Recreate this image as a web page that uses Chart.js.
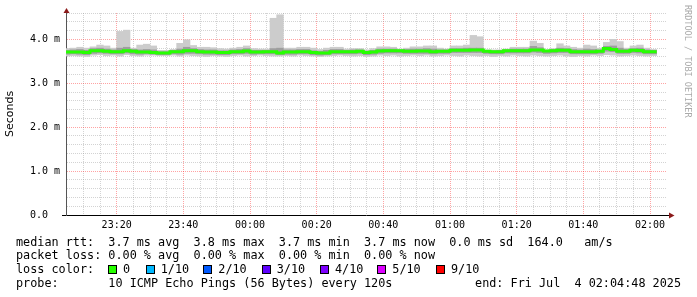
<!DOCTYPE html>
<html><head><meta charset="utf-8">
<script src="https://cdn.jsdelivr.net/npm/chart.js@4/dist/chart.umd.min.js"></script>
<style>
html,body{margin:0;padding:0;background:#fff;}
#wrap{position:relative;width:697px;height:297px;overflow:hidden;background:#fff;}
canvas{position:absolute;left:0;top:0;}
.t{position:absolute;font-family:"DejaVu Sans Mono",monospace;font-size:11.8px;line-height:14px;white-space:pre;color:#000;}
.sq{position:absolute;width:7px;height:7px;border:1px solid #000;}
#rrd{position:absolute;left:683px;top:5px;writing-mode:vertical-rl;font-family:"DejaVu Sans Mono",monospace;font-size:8.5px;color:#aaaaaa;white-space:pre;line-height:10px;}
</style></head><body>
<div id="wrap">
<canvas id="c" width="697" height="297"></canvas>
<div id="rrd">RRDTOOL / TOBI OETIKER</div>
<div class="t" style="left:16px;top:234.5px;">median rtt:  3.7 ms avg  3.8 ms max  3.7 ms min  3.7 ms now  0.0 ms sd  164.0   am/s</div>
<div class="t" style="left:16px;top:248.2px;">packet loss: 0.00 % avg  0.00 % max  0.00 % min  0.00 % now</div>
<div class="t" style="left:16px;top:261.8px;">loss color:</div>
<div class="t" style="left:16px;top:275.5px;">probe:       10 ICMP Echo Pings (56 Bytes) every 120s</div>
<div class="t" style="right:16px;top:275.5px;">end: Fri Jul  4 02:04:48 2025</div>
<div id="loss"></div>
</div>
<script>
// ---- data (RRD step end times, 120 s steps) ----
const times = [
 '23:06','23:08','23:10','23:12','23:14','23:16','23:18','23:20','23:22','23:24',
 '23:26','23:28','23:30','23:32','23:34','23:36','23:38','23:40','23:42','23:44',
 '23:46','23:48','23:50','23:52','23:54','23:56','23:58','00:00','00:02','00:04',
 '00:06','00:08','00:10','00:12','00:14','00:16','00:18','00:20','00:22','00:24',
 '00:26','00:28','00:30','00:32','00:34','00:36','00:38','00:40','00:42','00:44',
 '00:46','00:48','00:50','00:52','00:54','00:56','00:58','01:00','01:02','01:04',
 '01:06','01:08','01:10','01:12','01:14','01:16','01:18','01:20','01:22','01:24',
 '01:26','01:28','01:30','01:32','01:34','01:36','01:38','01:40','01:42','01:44',
 '01:46','01:48','01:50','01:52','01:54','01:56','01:58','02:00','02:02'];
// median RTT (ms)
const medianMs = [
 3.71,3.71,3.71,3.70,3.74,3.74,3.73,3.72,3.72,3.74,
 3.73,3.71,3.71,3.70,3.69,3.69,3.72,3.72,3.74,3.74,
 3.72,3.71,3.71,3.70,3.70,3.72,3.72,3.735,3.71,3.71,
 3.72,3.72,3.69,3.71,3.71,3.72,3.72,3.70,3.69,3.69,
 3.72,3.72,3.72,3.72,3.73,3.70,3.71,3.735,3.74,3.74,
 3.74,3.73,3.73,3.735,3.735,3.72,3.73,3.73,3.75,3.75,
 3.75,3.755,3.755,3.73,3.72,3.72,3.74,3.74,3.74,3.74,
 3.76,3.755,3.735,3.74,3.75,3.75,3.72,3.72,3.72,3.72,
 3.73,3.79,3.77,3.73,3.73,3.75,3.745,3.72,3.72];
// smoke: fastest / slowest ping (ms)
const minMs = [
 3.62,3.63,3.62,3.61,3.64,3.65,3.63,3.64,3.62,3.65,
 3.63,3.62,3.64,3.64,3.63,3.63,3.64,3.62,3.64,3.63,
 3.62,3.61,3.63,3.62,3.61,3.63,3.64,3.62,3.63,3.64,
 3.63,3.62,3.62,3.63,3.62,3.64,3.63,3.62,3.61,3.62,
 3.63,3.64,3.63,3.62,3.63,3.61,3.62,3.64,3.63,3.64,
 3.62,3.63,3.64,3.63,3.64,3.62,3.63,3.64,3.63,3.62,
 3.64,3.63,3.62,3.63,3.61,3.63,3.62,3.64,3.63,3.62,
 3.64,3.63,3.62,3.63,3.64,3.62,3.61,3.63,3.62,3.64,
 3.63,3.65,3.64,3.62,3.63,3.64,3.63,3.62,3.63];
const maxMs = [
 3.79,3.80,3.82,3.80,3.83,3.87,3.85,3.80,4.18,4.21,
 3.80,3.87,3.89,3.85,3.75,3.75,3.77,3.91,3.99,3.86,
 3.82,3.82,3.81,3.79,3.78,3.80,3.82,3.85,3.79,3.78,
 3.78,4.48,4.56,3.80,3.80,3.82,3.82,3.80,3.77,3.80,
 3.82,3.82,3.78,3.79,3.79,3.76,3.79,3.83,3.83,3.82,
 3.78,3.80,3.83,3.83,3.85,3.85,3.80,3.78,3.85,3.85,
 3.87,4.09,4.06,3.76,3.76,3.76,3.78,3.82,3.82,3.82,
 3.96,3.91,3.76,3.79,3.90,3.85,3.82,3.80,3.87,3.85,
 3.80,3.93,4.00,3.95,3.80,3.85,3.87,3.80,3.77];
// inner smoke band (ms)
const lowBandMs = [
 3.66,3.67,3.66,3.65,3.68,3.69,3.68,3.67,3.67,3.69,
 3.67,3.66,3.67,3.66,3.65,3.65,3.67,3.66,3.68,3.68,
 3.67,3.66,3.66,3.65,3.65,3.67,3.67,3.68,3.66,3.67,
 3.67,3.67,3.65,3.66,3.66,3.67,3.67,3.65,3.64,3.65,
 3.67,3.67,3.67,3.67,3.68,3.65,3.66,3.68,3.69,3.69,
 3.69,3.68,3.68,3.68,3.68,3.67,3.68,3.68,3.70,3.70,
 3.70,3.70,3.70,3.68,3.67,3.67,3.69,3.69,3.69,3.69,
 3.71,3.70,3.68,3.69,3.70,3.70,3.67,3.67,3.67,3.67,
 3.68,3.73,3.72,3.68,3.68,3.70,3.69,3.67,3.67];
const highBandMs = [
 3.75,3.76,3.77,3.75,3.79,3.80,3.78,3.76,3.80,3.82,
 3.77,3.76,3.77,3.76,3.72,3.72,3.75,3.78,3.82,3.79,
 3.77,3.76,3.76,3.74,3.74,3.76,3.77,3.79,3.75,3.75,
 3.75,3.79,3.80,3.76,3.76,3.77,3.77,3.74,3.73,3.75,
 3.77,3.77,3.75,3.76,3.76,3.73,3.75,3.78,3.78,3.78,
 3.76,3.77,3.78,3.78,3.79,3.78,3.76,3.76,3.79,3.79,
 3.80,3.80,3.80,3.74,3.74,3.75,3.76,3.78,3.78,3.78,
 3.84,3.81,3.75,3.77,3.80,3.79,3.77,3.76,3.78,3.77,
 3.76,3.84,3.85,3.80,3.77,3.79,3.80,3.76,3.75];
// axes
const graphStart = '23:04:48';
const graphEnd = '02:04:48';
const xTickLabels = ['23:20','23:40','00:00','00:20','00:40','01:00','01:20','01:40','02:00'];
const yTickValues = [0, 1, 2, 3, 4];
const yTickLabels = ['0.0  ', '1.0 m', '2.0 m', '3.0 m', '4.0 m'];
const yMax = 4.6;
// loss legend
const lossLabels = ['0','1/10','2/10','3/10','4/10','5/10','9/10'];
const lossColors = ['#26ff00','#00b8ff','#0059ff','#5e00ff','#7e00ff','#dd00ff','#ff0000'];
const lossPos = [108, 145.7, 203.3, 261.7, 320, 377.3, 436];

function toMin(s){ const p = s.split(':').map(Number); const h = p[0] >= 12 ? p[0]-24 : p[0]; return h*60 + p[1] + (p[2]||0)/60; }
const xEnd = times.map(toMin);
const xStart = xEnd.map((v,i)=> i>0 ? xEnd[i-1] : v - (xEnd[1]-xEnd[0]));
const xMid = xEnd.map((v,i)=> (v + xStart[i]) / 2);
const xMajor = xTickLabels.map(toMin);

const medLine = [];
medianMs.forEach((m,i)=>{ medLine.push({x:xStart[i], y:m}); medLine.push({x:xEnd[i], y:m}); });

// loss legend squares
const lossDiv = document.getElementById('loss');
lossLabels.forEach((l,i)=>{
  const s = document.createElement('div'); s.className='sq';
  s.style.left = lossPos[i]+'px'; s.style.top='265px'; s.style.background = lossColors[i];
  lossDiv.appendChild(s);
  const t = document.createElement('div'); t.className='t';
  t.style.left = (lossPos[i]+15)+'px'; t.style.top='261.8px'; t.textContent = l;
  lossDiv.appendChild(t);
});

const MONO = 'DejaVu Sans Mono';
const gridMinor = 'rgba(150,150,150,0.42)';
const gridMajor = 'rgba(255,0,0,0.36)';

const axisArrows = {
  id: 'axisArrows',
  afterDraw(chart){
    const {ctx, chartArea:a} = chart;
    ctx.save();
    ctx.strokeStyle = '#000'; ctx.lineWidth = 1;
    ctx.beginPath();
    ctx.moveTo(a.left-4, a.bottom+0.5); ctx.lineTo(a.left, a.bottom+0.5);
    ctx.moveTo(a.right, a.bottom+0.5); ctx.lineTo(a.right+3, a.bottom+0.5);
    ctx.stroke();
    ctx.strokeStyle = '#555';
    ctx.beginPath(); ctx.moveTo(a.left+0.5, a.top); ctx.lineTo(a.left+0.5, a.top-2); ctx.stroke();
    ctx.fillStyle = '#8b1a1a';
    ctx.beginPath();
    ctx.moveTo(a.left+0.5, a.top-5); ctx.lineTo(a.left-2.5, a.top); ctx.lineTo(a.left+3.5, a.top); ctx.closePath(); ctx.fill();
    ctx.beginPath();
    ctx.moveTo(a.right+8.5, a.bottom+0.5); ctx.lineTo(a.right+3, a.bottom-2.5); ctx.lineTo(a.right+3, a.bottom+3.5); ctx.closePath(); ctx.fill();
    ctx.restore();
  }
};

new Chart(document.getElementById('c'), {
  type: 'bar',
  data: { datasets: [
    { type:'line', label:'median rtt', data: medLine, borderColor:'#26ff00', borderWidth:3,
      pointRadius:0, tension:0, borderJoinStyle:'miter', borderCapStyle:'butt', order:0 },
    { type:'bar', label:'smoke inner', data: xMid.map((x,i)=>({x, y:[lowBandMs[i], highBandMs[i]]})),
      backgroundColor:'#9e9e9e', borderWidth:0, grouped:false, barPercentage:1, categoryPercentage:1, order:1 },
    { type:'bar', label:'smoke', data: xMid.map((x,i)=>({x, y:[minMs[i], maxMs[i]]})),
      backgroundColor:'#cccccc', borderWidth:0, grouped:false, barPercentage:1, categoryPercentage:1, order:2 }
  ]},
  options: {
    responsive:false, animation:false, devicePixelRatio:1,
    layout:{ padding:{ left:0, top:13, right:31, bottom:0 } },
    plugins:{ legend:{display:false}, tooltip:{enabled:false} },
    scales:{
      x:{ type:'linear', min: toMin(graphStart), max: toMin(graphEnd), offset:false, z:1,
        grid:{ offset:false, drawTicks:false, lineWidth:1,
          color: c => xMajor.some(v=>Math.abs(v-c.tick.value)<1e-6) ? gridMajor : gridMinor },
        border:{ display:true, color:'#000', width:1, dash:[1,1] },
        ticks:{ autoSkip:false, maxRotation:0, padding:4, color:'#000', font:{family:MONO, size:10},
          callback: v => { const k = xMajor.findIndex(m=>Math.abs(m-v)<1e-6); return k>=0 ? xTickLabels[k] : ''; } },
        afterBuildTicks: s => { const t=[]; for (let v=Math.ceil(s.min/5)*5; v<=s.max; v+=5) t.push({value:v}); s.ticks = t; },
        afterFit: s => { s.height = 82; }
      },
      y:{ min:0, max:yMax, z:1,
        grid:{ drawTicks:false, lineWidth:1,
          color: c => yTickValues.some(v=>Math.abs(v-c.tick.value)<1e-6) ? gridMajor : gridMinor },
        border:{ display:true, color:'#555', width:1, dash:[1,1] },
        ticks:{ autoSkip:false, padding:6, color:'#000', font:{family:MONO, size:10},
          callback: v => { const k = yTickValues.findIndex(m=>Math.abs(m-v)<1e-6); return k>=0 ? yTickLabels[k] : ''; } },
        title:{ display:true, text:'Seconds', color:'#000', font:{family:'DejaVu Sans', size:11}, padding:{top:4, bottom:0} },
        afterBuildTicks: s => { const t=[]; for (let i=0; i*0.2<=yMax+1e-9; i++) t.push({value:Math.round(i*2)/10}); s.ticks = t; },
        afterFit: s => { s.width = 66; }
      }
    }
  },
  plugins:[axisArrows]
});
</script>
</body></html>
